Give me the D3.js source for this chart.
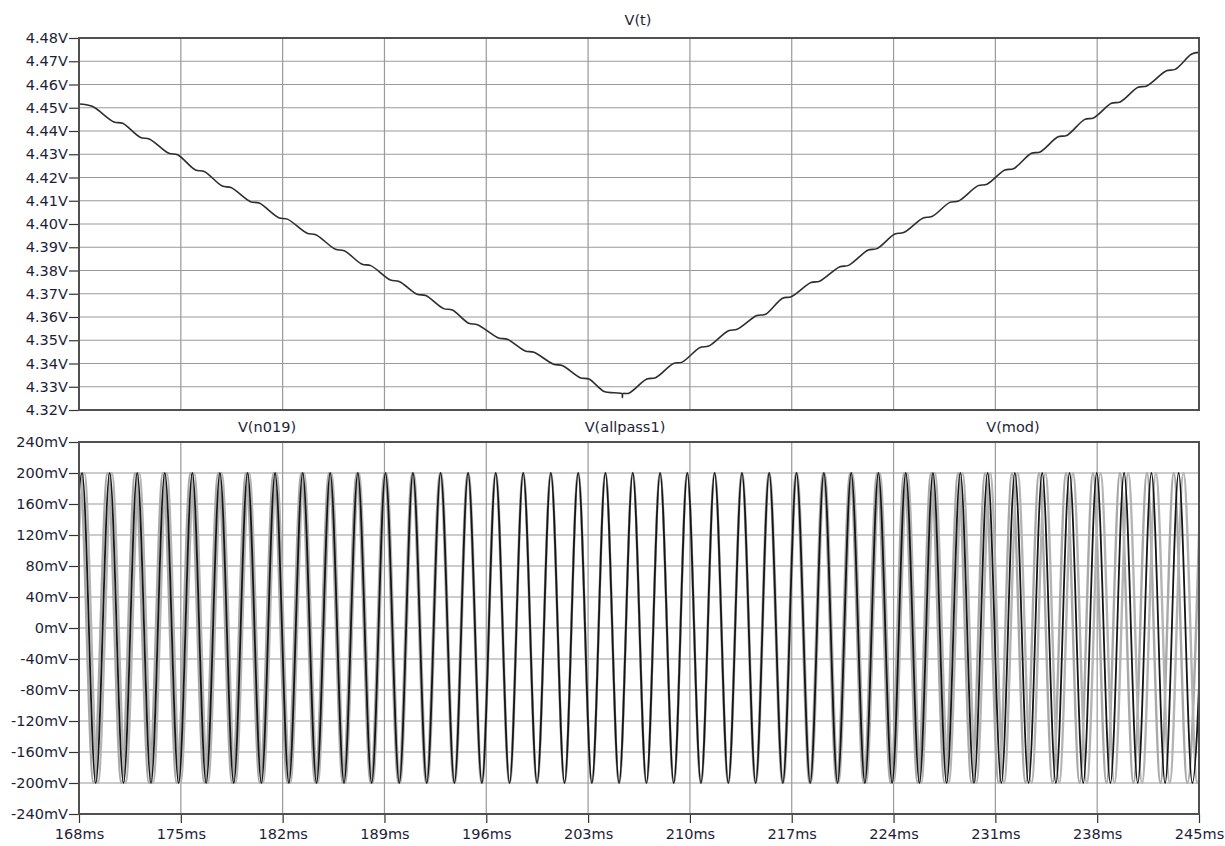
<!DOCTYPE html>
<html><head><meta charset="utf-8">
<script src="https://cdn.jsdelivr.net/npm/d3@7"></script>
<style>
body{margin:0;background:#fff;}
text{font-family:"DejaVu Sans",Verdana,sans-serif;}
</style></head><body>
<svg id="chart" width="1225" height="846"></svg>
<script>
// ---------- data ----------
const timeTicks = [168,175,182,189,196,203,210,217,224,231,238,245];
const topTicks = [4.48,4.47,4.46,4.45,4.44,4.43,4.42,4.41,4.40,4.39,4.38,4.37,4.36,4.35,4.34,4.33,4.32];
const bottomTicks = [240,200,160,120,80,40,0,-40,-80,-120,-160,-200,-240];
const topTitle = "V(t)";
const bottomTitles = ["V(n019)","V(allpass1)","V(mod)"];

// V(t): read points (ms, V)
const topTimes = [168.00,168.90,170.40,171.00,172.23,172.83,174.18,174.78,176.01,176.61,177.85,178.45,179.79,180.39,181.73,182.33,183.68,184.28,185.63,186.23,187.46,188.06,189.41,190.01,191.24,191.84,193.07,193.67,194.79,195.39,196.85,197.45,198.68,199.28,200.62,201.22,202.46,203.06,204.10,204.80,205.34,205.36,205.38,205.80,207.04,207.64,208.87,209.47,210.70,211.30,212.65,213.25,214.60,215.20,216.37,216.97,218.32,218.92,220.31,220.91,222.26,222.86,224.09,224.69,226.04,226.64,227.87,228.47,229.82,230.42,231.65,232.25,233.48,234.08,235.31,235.91,237.15,237.75,238.98,239.58,240.81,241.41,242.76,243.36,244.50,245.00];
const topVolts = [4.4516,4.4506,4.4439,4.4433,4.4372,4.4366,4.4304,4.4298,4.4232,4.4226,4.4163,4.4157,4.4096,4.4090,4.4027,4.4021,4.3960,4.3954,4.3891,4.3885,4.3827,4.3821,4.3759,4.3753,4.3698,4.3692,4.3636,4.3630,4.3573,4.3567,4.3510,4.3504,4.3454,4.3448,4.3397,4.3391,4.3339,4.3333,4.3280,4.3274,4.3270,4.3254,4.3270,4.3272,4.3333,4.3339,4.3400,4.3406,4.3469,4.3475,4.3541,4.3547,4.3606,4.3612,4.3681,4.3687,4.3748,4.3754,4.3816,4.3822,4.3888,4.3894,4.3957,4.3963,4.4026,4.4032,4.4093,4.4099,4.4165,4.4171,4.4232,4.4238,4.4304,4.4310,4.4375,4.4381,4.4450,4.4456,4.4519,4.4525,4.4588,4.4594,4.4659,4.4665,4.4731,4.4738];

// bottom: extrema times (ms) of the sine traces
const peakTimes = [168.21,170.11,172.00,173.90,175.79,177.69,179.59,181.48,183.38,185.27,187.17,189.07,190.96,192.86,194.75,196.65,198.54,200.44,202.32,204.19,206.07,207.95,209.82,211.70,213.58,215.45,217.33,219.21,221.09,222.96,224.84,226.71,228.59,230.47,232.34,234.22,236.10,237.97,239.85,241.73,243.60,245.48];
const troughTimes = [167.27,169.15,171.06,172.95,174.85,176.74,178.64,180.54,182.43,184.33,186.22,188.12,190.02,191.91,193.81,195.70,197.60,199.49,201.38,203.26,205.13,207.01,208.89,210.76,212.64,214.52,216.39,218.27,220.15,222.03,223.90,225.78,227.65,229.53,231.41,233.28,235.16,237.04,238.91,240.79,242.67,244.54];
const peakMV = 200, troughMV = -200;
// phase offset (ms) of each trace, read at the time ticks
const n019Offset     = [-0.16,-0.13,-0.10,-0.06,-0.02,0,0,-0.03,-0.10,-0.18,-0.26,-0.35];
const allpass1Offset = [0.16,0.13,0.10,0.06,0.02,0,0,0.03,0.10,0.18,0.26,0.35];
const modOffset      = [0,0,0,0,0,0,0,0,0,0,0,0];

// ---------- layout ----------
const L = 79, R = 1199;
const topY0 = 38, topY1 = 410, botY0 = 442, botY1 = 814;
const svg = d3.select("#chart");
const x = d3.scaleLinear().domain([168,245]).range([L,R]);
const yTop = d3.scaleLinear().domain([4.32,4.48]).range([topY1,topY0]);
const yBot = d3.scaleLinear().domain([-240,240]).range([botY1,botY0]);
const textColor = "#1e1e38";
const gridColor = "#9a9a9a";
const frameColor = "#505050";

const defs = svg.append("defs");
defs.append("clipPath").attr("id","clipTop").append("rect").attr("x",L).attr("y",topY0).attr("width",R-L).attr("height",topY1-topY0);
defs.append("clipPath").attr("id","clipBot").append("rect").attr("x",L).attr("y",botY0).attr("width",R-L).attr("height",botY1-botY0);

function panel(y, ticks, fmt, y0, y1){
  const g = svg.append("g");
  g.selectAll("line.h").data(ticks).join("line").attr("class","h")
    .attr("x1",L).attr("x2",R).attr("y1",d=>y(d)).attr("y2",d=>y(d))
    .attr("stroke",gridColor).attr("stroke-width",1.2);
  g.selectAll("line.v").data(timeTicks).join("line").attr("class","v")
    .attr("x1",d=>x(d)).attr("x2",d=>x(d)).attr("y1",y0).attr("y2",y1)
    .attr("stroke",gridColor).attr("stroke-width",1.2);
  const ax = svg.append("g").attr("transform",`translate(${L},0)`)
    .call(d3.axisLeft(y).tickValues(ticks).tickFormat(fmt).tickSize(10).tickPadding(1));
  ax.select(".domain").remove();
  ax.selectAll(".tick line").attr("stroke","#333").attr("stroke-width",1.2);
  ax.selectAll(".tick text").attr("fill",textColor).style("font-size","14.5px").style("font-family","'DejaVu Sans',Verdana,sans-serif");
  return g;
}
panel(yTop, topTicks, d=>d.toFixed(2)+"V", topY0, topY1);
panel(yBot, bottomTicks, d=>d+"mV", botY0, botY1);

const xa = svg.append("g").attr("transform",`translate(0,${botY1})`)
  .call(d3.axisBottom(x).tickValues(timeTicks).tickFormat(d=>d+"ms").tickSize(9).tickPadding(6));
xa.select(".domain").remove();
xa.selectAll(".tick line").attr("stroke","#333").attr("stroke-width",1.2);
xa.selectAll(".tick text").attr("fill",textColor).style("font-size","14.5px").style("font-family","'DejaVu Sans',Verdana,sans-serif");

// top trace
const topData = topTimes.map((t,i)=>[t,topVolts[i]]);
svg.append("path").datum(topData).attr("clip-path","url(#clipTop)")
  .attr("fill","none").attr("stroke","#2e2e2e").attr("stroke-width",1.6)
  .attr("d", d3.line().x(d=>x(d[0])).y(d=>yTop(d[1])).curve(d3.curveCatmullRom.alpha(0.5)));

// bottom traces
const extrema = peakTimes.map(t=>[t,peakMV]).concat(troughTimes.map(t=>[t,troughMV])).sort((a,b)=>a[0]-b[0]);
function trace(offsets, color, width){
  const off = d3.scaleLinear().domain(timeTicks).range(offsets).clamp(true);
  const pts = extrema.map(d=>[d[0]+off(d[0]), d[1]]);
  svg.append("path").datum(pts).attr("clip-path","url(#clipBot)")
    .attr("fill","none").attr("stroke",color).attr("stroke-width",width)
    .attr("d", d3.line().x(d=>x(d[0])).y(d=>yBot(d[1])).curve(d3.curveMonotoneX));
}
trace(n019Offset, "#a8a8a8", 2.4);
trace(allpass1Offset, "#b4b4b4", 2.4);
trace(modOffset, "#151515", 1.8);

// frames
[[topY0,topY1],[botY0,botY1]].forEach(([a,b])=>{
  svg.append("rect").attr("x",L).attr("y",a).attr("width",R-L).attr("height",b-a)
    .attr("fill","none").attr("stroke",frameColor).attr("stroke-width",2);
});

// titles
svg.append("text").attr("x",638).attr("y",25).attr("text-anchor","middle")
  .attr("fill",textColor).style("font-size","14.5px").text(topTitle);
const titleX = [267,625,1013];
svg.selectAll("text.bt").data(bottomTitles).join("text").attr("class","bt")
  .attr("x",(d,i)=>titleX[i]).attr("y",432).attr("text-anchor","middle")
  .attr("fill",textColor).style("font-size","14.5px").text(d=>d);
</script>
</body></html>
